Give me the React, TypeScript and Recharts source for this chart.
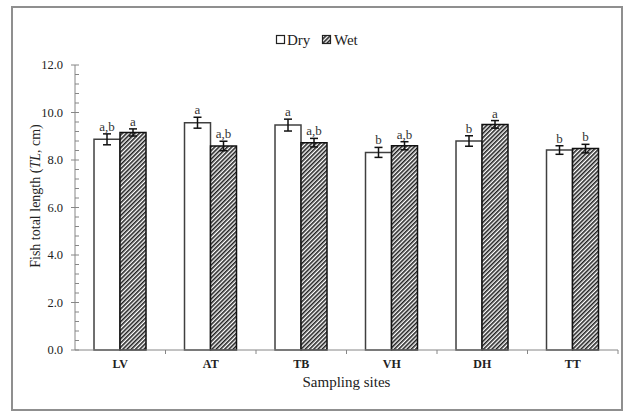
import React from 'react';
import { BarChart, Bar, XAxis, YAxis, ErrorBar, LabelList } from 'recharts';

// Comprimento total médio por local e estação
const sites = ['LV', 'AT', 'TB', 'VH', 'DH', 'TT'];
const dryMean = [8.87, 9.57, 9.47, 8.32, 8.8, 8.42];
const dryErr = [0.23, 0.23, 0.25, 0.21, 0.22, 0.18];
const dryLetters = ['a,b', 'a', 'a', 'b', 'b', 'b'];
const wetMean = [9.16, 8.59, 8.73, 8.6, 9.5, 8.48];
const wetErr = [0.15, 0.2, 0.18, 0.17, 0.16, 0.18];
const wetLetters = ['a', 'a,b', 'a,b', 'a,b', 'a', 'b'];
const majorTicks = [0, 2, 4, 6, 8, 10, 12];
const minorStep = 0.4;

const W = 623;
const H = 411;
const M = { top: 65, right: 5, bottom: 20, left: 20 };
const Y_AXIS_W = 55;
const X_AXIS_H = 41;
const PLOT_W = W - M.left - M.right - Y_AXIS_W;
const PLOT_H = H - M.top - M.bottom - X_AXIS_H;
const Y_MAX = majorTicks[majorTicks.length - 1];
const BAND = PLOT_W / sites.length;
const serif = { fontFamily: 'Liberation Serif, Times New Roman, serif' };
const AXIS = '#868686';

const data = sites.map((s, i) => ({
  site: s,
  dry: dryMean[i],
  dryErr: dryErr[i],
  dryTag: dryLetters[i],
  wet: wetMean[i],
  wetErr: wetErr[i],
  wetTag: wetLetters[i],
}));

const yTicks: number[] = [];
for (let i = 0; i <= Math.round(Y_MAX / minorStep); i++) {
  yTicks.push(Math.round(i * minorStep * 10) / 10);
}

const YTick = (props: any) => {
  const { x, y, payload } = props;
  const v = payload.value;
  const isMajor = majorTicks.some(t => Math.abs(t - v) < 1e-6);
  if (!isMajor) {
    return <line x1={x} x2={x + 4} y1={y} y2={y} stroke={AXIS} strokeWidth={1} />;
  }
  return (
    <g>
      <line x1={x - 4} x2={x + 4} y1={y} y2={y} stroke={AXIS} strokeWidth={1} />
      <text x={x - 12} y={y} dy={4} textAnchor="end" fontSize={12.5} style={serif} fill="#222">
        {v.toFixed(1)}
      </text>
    </g>
  );
};

const XTick = (props: any) => {
  const { x, y, payload } = props;
  return (
    <g>
      <line x1={x + BAND / 2} x2={x + BAND / 2} y1={y} y2={y + 4} stroke={AXIS} strokeWidth={1} />
      <text x={x} y={y + 18} textAnchor="middle" fontSize={12} fontWeight="bold" style={serif} fill="#222">
        {payload.value}
      </text>
    </g>
  );
};

const makeTag = (errs: number[]) => (props: any) => {
  const { x, y, width, value, index } = props;
  const capY = y - (errs[index] * PLOT_H) / Y_MAX;
  return (
    <text x={x + width / 2} y={capY - 3} textAnchor="middle" fontSize={13} style={serif} fill="#333">
      {value}
    </text>
  );
};

const YLabel = () => (
  <text
    x={40}
    y={196}
    transform="rotate(-90, 40, 196)"
    textAnchor="middle"
    fontSize={14}
    style={serif}
    fill="#222"
  >
    Fish total length (<tspan fontStyle="italic">TL</tspan>, cm)
  </text>
);

export default function App() {
  return (
    <div style={{ position: 'absolute', left: 0, top: 0, width: W, height: H, background: '#fff' }}>
      <div
        style={{
          position: 'absolute',
          left: 11,
          top: 6,
          width: 612,
          height: 405,
          boxSizing: 'border-box',
          border: '2px solid #8f8f8f',
        }}
      />
      <BarChart
        width={W}
        height={H}
        data={data}
        margin={M}
        barCategoryGap="21%"
        barGap={0}
        style={{ position: 'absolute', left: 0, top: 0 }}
      >
        <defs>
          <pattern id="hatch" width={3} height={3} patternUnits="userSpaceOnUse" patternTransform="rotate(45)">
            <rect width={3} height={3} fill="#fff" />
            <rect width={1.6} height={3} fill="#222" />
          </pattern>
        </defs>
        <XAxis
          dataKey="site"
          height={X_AXIS_H}
          stroke={AXIS}
          tickLine={false}
          tickSize={0}
          tickMargin={0}
          tick={<XTick />}
          interval={0}
          label={(p: any) => {
            const vb = p.viewBox;
            return (
              <text x={vb.x + vb.width / 2} y={vb.y + 37} textAnchor="middle" fontSize={15} style={serif} fill="#222">
                Sampling sites
              </text>
            );
          }}
        />
        <YAxis
          width={Y_AXIS_W}
          domain={[0, Y_MAX]}
          ticks={yTicks}
          interval={0}
          stroke={AXIS}
          tickLine={false}
          tickSize={0}
          tickMargin={0}
          tick={<YTick />}
        />
        <Bar dataKey="dry" name="Dry" fill="#fff" stroke="#404040" strokeWidth={1.5} isAnimationActive={false}>
          <ErrorBar dataKey="dryErr" width={4} stroke="#111" strokeWidth={1.5} />
          <LabelList dataKey="dryTag" content={makeTag(dryErr)} />
        </Bar>
        <Bar dataKey="wet" name="Wet" fill="url(#hatch)" stroke="#111" strokeWidth={1.5} isAnimationActive={false}>
          <ErrorBar dataKey="wetErr" width={4} stroke="#111" strokeWidth={1.5} />
          <LabelList dataKey="wetTag" content={makeTag(wetErr)} />
        </Bar>
        <YLabel />
        <g>
          <rect x={276.5} y={35.5} width={8} height={8} fill="#fff" stroke="#222" strokeWidth={1.2} />
          <text x={287} y={45} fontSize={15} style={serif} fill="#222">Dry</text>
          <rect x={322.5} y={35.5} width={8} height={8} fill="url(#hatch)" stroke="#222" strokeWidth={1.2} />
          <text x={334} y={45} fontSize={15} style={serif} fill="#222">Wet</text>
        </g>
      </BarChart>
    </div>
  );
}
